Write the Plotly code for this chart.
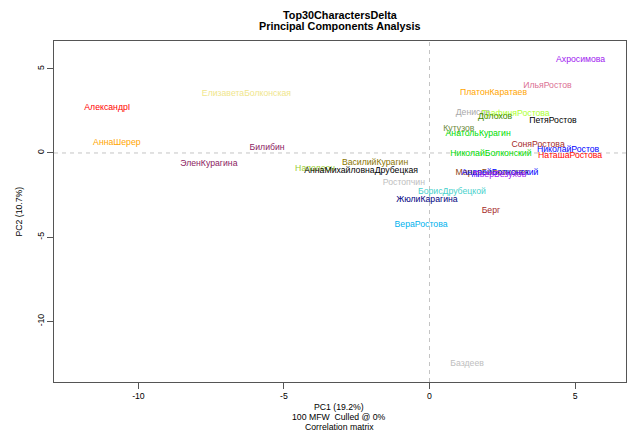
import plotly.graph_objects as go

# PCA scores of the 30 most frequent characters (PC1, PC2)
characters = [
    "Ахросимова", "ИльяРостов", "ПлатонКаратаев", "ЕлизаветаБолконская",
    "АлександрI", "Денисов", "ГрафиняРостова", "Долохов", "ПетяРостов",
    "Кутузов", "АнатольКурагин", "Билибин", "АннаШерер", "СоняРостова",
    "НиколайРостов", "НаташаРостова", "НиколайБолконский", "ЭленКурагина",
    "ВасилийКурагин", "Наполеон", "АннаМихайловнаДрубецкая",
    "МарьяБолконская", "АндрейБолконский", "ПьерБезухов", "Ростопчин",
    "БорисДрубецкой", "ЖюлиКарагина", "Берг", "ВераРостова", "Баздеев",
]
pc1 = [
    5.19, 4.05, 2.20, -6.29,
    -11.07, 1.49, 2.96, 2.25, 4.24,
    1.01, 1.67, -5.58, -10.74, 3.73,
    4.76, 4.83, 2.11, -7.58,
    -1.87, -3.93, -2.35,
    2.15, 2.42, 2.42, -0.88,
    0.77, -0.09, 2.11, -0.29, 1.29,
]
pc2 = [
    5.52, 3.97, 3.55, 3.49,
    2.69, 2.36, 2.30, 2.13, 1.93,
    1.46, 1.16, 0.33, 0.63, 0.51,
    0.16, -0.14, -0.05, -0.67,
    -0.61, -0.97, -1.03,
    -1.15, -1.15, -1.32, -1.80,
    -2.33, -2.80, -3.45, -4.28, -12.51,
]
label_colors = [
    "#A020F0", "#DB7093", "#FFA500", "#F0E68C",
    "#FF0000", "#A9A9A9", "#ADFF2F", "#458B00", "#000000",
    "#6E8B3D", "#00DD00", "#8B1C62", "#FFA500", "#A52A2A",
    "#0000FF", "#FF0000", "#00DD00", "#8B1C62",
    "#8B7500", "#9ACD32", "#000000",
    "#8B4513", "#0000FF", "#A020F0", "#BEBEBE",
    "#48D1CC", "#000080", "#A52A2A", "#00B2EE", "#BEBEBE",
]

x_ticks = [-10, -5, 0, 5]
y_ticks = [-10, -5, 0, 5]

FONT = "Liberation Sans, Arial, Helvetica, sans-serif"
BOX = "#555555"

fig = go.Figure()
fig.add_trace(go.Scatter(
    x=pc1, y=pc2, text=characters, mode="text",
    textposition="middle center",
    textfont=dict(family=FONT, size=8.7, color=label_colors),
    hoverinfo="text", showlegend=False,
))

# dashed reference lines through the origin
ref_line = dict(color="#C4C4C4", width=1, dash="4px,4px")
fig.add_shape(type="line", xref="x", yref="paper", x0=0, x1=0, y0=0, y1=1,
              line=ref_line, layer="below")
fig.add_shape(type="line", xref="paper", yref="y", x0=0, x1=1, y0=0, y1=0,
              line=ref_line, layer="below")

axis_common = dict(
    showgrid=False, zeroline=False, showline=True, mirror=True,
    linecolor=BOX, linewidth=1, ticks="outside", ticklen=6, tickcolor=BOX,
    tickfont=dict(family=FONT, size=8.7, color="#000000"),
)
fig.update_xaxes(range=[-12.9, 6.75], tickvals=x_ticks,
                 ticktext=[str(v) for v in x_ticks], **axis_common)
fig.update_yaxes(range=[-13.6, 6.65], tickvals=y_ticks,
                 ticktext=[str(v) for v in y_ticks], tickangle=-90,
                 **axis_common)

annotations = [
    dict(text="<b>Top30CharactersDelta</b>", x=340, y=15, size=10.8),
    dict(text="<b>Principal Components Analysis</b>", x=340, y=26, size=10.8),
    dict(text="PC1 (19.2%)", x=339, y=406.5, size=8.7),
    dict(text="100 MFW  Culled @ 0%", x=339, y=417, size=8.7),
    dict(text="Correlation matrix", x=339, y=427.5, size=8.7),
]
W, H = 628, 432
ann = []
for a in annotations:
    ann.append(dict(
        text=a["text"], xref="paper", yref="paper",
        x=(a["x"] - 54) / (626 - 54), y=(382 - a["y"]) / (382 - 41),
        xanchor="center", yanchor="middle", showarrow=False,
        font=dict(family=FONT, size=a["size"], color="#000000"),
    ))
ann.append(dict(
    text="PC2 (10.7%)", xref="paper", yref="paper",
    x=(18 - 54) / (626 - 54), y=0.5, textangle=-90,
    xanchor="center", yanchor="middle", showarrow=False,
    font=dict(family=FONT, size=8.7, color="#000000"),
))

fig.update_layout(
    width=W, height=H,
    margin=dict(l=54, r=2, t=41, b=50, pad=0),
    paper_bgcolor="#FFFFFF", plot_bgcolor="#FFFFFF",
    annotations=ann,
    font=dict(family=FONT),
)

fig.write_html("out.html")
